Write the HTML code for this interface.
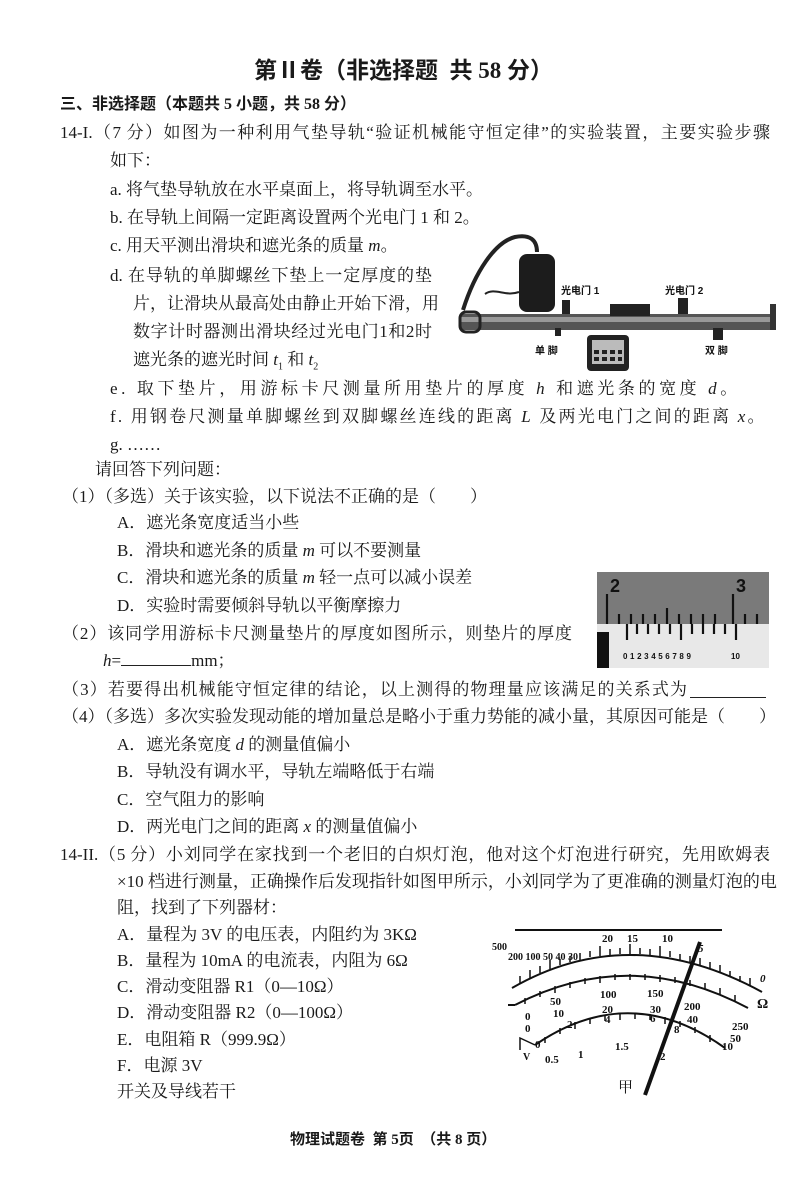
<!DOCTYPE html>
<html><head><meta charset="utf-8">
<style>
body{margin:0;background:#fff;}
#p{position:relative;width:800px;height:1190px;overflow:hidden;background:#fff;font-family:"Liberation Serif","Noto Serif CJK SC",serif;color:#1a1a1a;font-size:17px;}
.l{position:absolute;line-height:24px;white-space:nowrap;}
.j{text-align:justify;text-align-last:justify;}
i{font-style:italic;}
</style></head><body><div id="p">
<div class="l" style="left:254px;top:56px;font-size:23px;line-height:30px;font-weight:bold;font-family:'Liberation Serif','Noto Sans CJK SC',sans-serif;">第Ⅱ卷（非选择题&nbsp;&nbsp;共 58 分）</div>
<div class="l" style="left:60px;top:93px;font-weight:bold;font-family:'Liberation Serif','Noto Sans CJK SC',sans-serif;font-size:16px;">三、非选择题（本题共 5 小题，共 58 分）</div>
<div class="l j" style="left:60px;top:121px;width:710px;">14-I.（7 分）如图为一种利用气垫导轨“验证机械能守恒定律”的实验装置，主要实验步骤</div>
<div class="l" style="left:110px;top:149px;">如下：</div>
<div class="l" style="left:110px;top:178px;">a. 将气垫导轨放在水平桌面上，将导轨调至水平。</div>
<div class="l" style="left:110px;top:206px;">b. 在导轨上间隔一定距离设置两个光电门 1 和 2。</div>
<div class="l" style="left:110px;top:234px;">c. 用天平测出滑块和遮光条的质量 <i>m</i>。</div>
<div class="l j" style="left:110px;top:264px;width:322px;">d. 在导轨的单脚螺丝下垫上一定厚度的垫</div>
<div class="l j" style="left:133px;top:292px;width:299px;">片，让滑块从最高处由静止开始下滑，用</div>
<div class="l j" style="left:133px;top:320px;width:299px;">数字计时器测出滑块经过光电门1和2时</div>
<div class="l" style="left:133px;top:348px;">遮光条的遮光时间 <i>t</i><sub style="font-size:10px">1</sub> 和 <i>t</i><sub style="font-size:10px">2</sub></div>
<div class="l" style="left:110px;top:377px;letter-spacing:3.6px;">e. 取下垫片，用游标卡尺测量所用垫片的厚度 <i>h</i> 和遮光条的宽度 <i>d</i>。</div>
<div class="l" style="left:110px;top:405px;letter-spacing:2.2px;">f. 用钢卷尺测量单脚螺丝到双脚螺丝连线的距离 <i>L</i> 及两光电门之间的距离 <i>x</i>。</div>
<div class="l" style="left:110px;top:433px;">g. ……</div>
<div class="l" style="left:95px;top:458px;">请回答下列问题：</div>
<div class="l" style="left:62px;top:485px;">（1）（多选）关于该实验，以下说法不正确的是（　　）</div>
<div class="l" style="left:117px;top:511px;">A．遮光条宽度适当小些</div>
<div class="l" style="left:117px;top:539px;">B．滑块和遮光条的质量 <i>m</i> 可以不要测量</div>
<div class="l" style="left:117px;top:566px;">C．滑块和遮光条的质量 <i>m</i> 轻一点可以减小误差</div>
<div class="l" style="left:117px;top:594px;">D．实验时需要倾斜导轨以平衡摩擦力</div>
<div class="l j" style="left:62px;top:622px;width:510px;">（2）该同学用游标卡尺测量垫片的厚度如图所示，则垫片的厚度</div>
<div class="l" style="left:103px;top:649px;"><i>h</i>=<span style="display:inline-block;width:70px;border-bottom:1px solid #222;"></span>mm；</div>
<div class="l j" style="left:62px;top:678px;width:625px;">（3）若要得出机械能守恒定律的结论，以上测得的物理量应该满足的关系式为</div>
<div style="position:absolute;left:690px;top:697px;width:76px;border-bottom:1px solid #222;"></div>
<div class="l j" style="left:62px;top:705px;width:710px;">（4）（多选）多次实验发现动能的增加量总是略小于重力势能的减小量，其原因可能是（　　）</div>
<div class="l" style="left:117px;top:733px;">A．遮光条宽度 <i>d</i> 的测量值偏小</div>
<div class="l" style="left:117px;top:760px;">B．导轨没有调水平，导轨左端略低于右端</div>
<div class="l" style="left:117px;top:788px;">C．空气阻力的影响</div>
<div class="l" style="left:117px;top:815px;">D．两光电门之间的距离 <i>x</i> 的测量值偏小</div>
<div class="l j" style="left:60px;top:843px;width:710px;">14-II.（5 分）小刘同学在家找到一个老旧的白炽灯泡，他对这个灯泡进行研究，先用欧姆表</div>
<div class="l j" style="left:117px;top:870px;width:653px;">×10 档进行测量，正确操作后发现指针如图甲所示，小刘同学为了更准确的测量灯泡的电</div>
<div class="l" style="left:117px;top:896px;">阻，找到了下列器材：</div>
<div class="l" style="left:117px;top:923px;">A．量程为 3V 的电压表，内阻约为 3KΩ</div>
<div class="l" style="left:117px;top:949px;">B．量程为 10mA 的电流表，内阻为 6Ω</div>
<div class="l" style="left:117px;top:975px;">C．滑动变阻器 R1（0—10Ω）</div>
<div class="l" style="left:117px;top:1001px;">D．滑动变阻器 R2（0—100Ω）</div>
<div class="l" style="left:117px;top:1028px;">E．电阻箱 R（999.9Ω）</div>
<div class="l" style="left:117px;top:1054px;">F．电源 3V</div>
<div class="l" style="left:117px;top:1080px;">开关及导线若干</div>
<div class="l" style="left:290px;top:1128px;font-weight:bold;font-size:15px;font-family:'Liberation Serif','Noto Sans CJK SC',sans-serif;">物理试题卷&nbsp;&nbsp;第 5页&nbsp;&nbsp;（共 8 页）</div>

<svg style="position:absolute;left:455px;top:232px" width="325" height="150" viewBox="0 0 325 150">
<path d="M8 78 C 20 40, 40 10, 60 5 C 75 2, 82 8, 82 20" fill="none" stroke="#222" stroke-width="4"/>
<rect x="64" y="22" width="36" height="58" rx="8" fill="#1c1c1c"/>
<path d="M30 62 C 40 55, 50 65, 64 60" fill="none" stroke="#222" stroke-width="2"/>
<rect x="107" y="68" width="8" height="18" fill="#222"/>
<rect x="223" y="66" width="10" height="20" fill="#222"/>
<rect x="5" y="82" width="316" height="16" fill="#555"/>
<rect x="5" y="85" width="316" height="5" fill="#999"/>
<rect x="5" y="80" width="20" height="20" rx="6" fill="none" stroke="#222" stroke-width="3"/>
<rect x="155" y="72" width="40" height="12" fill="#222"/>
<rect x="315" y="72" width="6" height="26" fill="#333"/>
<rect x="100" y="96" width="6" height="8" fill="#222"/>
<rect x="258" y="96" width="10" height="12" fill="#222"/>
<rect x="132" y="103" width="42" height="36" rx="4" fill="#222"/>
<rect x="137" y="108" width="32" height="24" fill="#bbb"/>
<g fill="#222"><rect x="139" y="118" width="5" height="4"/><rect x="147" y="118" width="5" height="4"/><rect x="155" y="118" width="5" height="4"/><rect x="163" y="118" width="4" height="4"/><rect x="139" y="125" width="5" height="4"/><rect x="147" y="125" width="5" height="4"/><rect x="155" y="125" width="5" height="4"/><rect x="163" y="125" width="4" height="4"/></g>
<g font-family="'Liberation Sans','Noto Sans CJK SC',sans-serif" font-size="10" font-weight="bold" fill="#111">
<text x="106" y="62">光电门 1</text><text x="210" y="62">光电门 2</text>
<text x="80" y="122">单 脚</text><text x="250" y="122">双 脚</text></g>
</svg>

<svg style="position:absolute;left:597px;top:572px" width="172" height="96" viewBox="0 0 172 96">
<rect width="172" height="96" fill="#e8e8e8"/>
<rect width="172" height="52" fill="#7a7a7a"/>
<rect x="0" y="60" width="12" height="36" fill="#111"/>
<g stroke="#111" stroke-width="2.2">
<line x1="10" y1="22" x2="10" y2="52"/><line x1="136" y1="22" x2="136" y2="52"/>
<line x1="22" y1="42" x2="22" y2="52"/><line x1="34" y1="42" x2="34" y2="52"/><line x1="46" y1="42" x2="46" y2="52"/><line x1="58" y1="42" x2="58" y2="52"/><line x1="70" y1="36" x2="70" y2="52"/><line x1="82" y1="42" x2="82" y2="52"/><line x1="94" y1="42" x2="94" y2="52"/><line x1="106" y1="42" x2="106" y2="52"/><line x1="118" y1="42" x2="118" y2="52"/><line x1="148" y1="42" x2="148" y2="52"/><line x1="160" y1="42" x2="160" y2="52"/>
<line x1="30" y1="52" x2="30" y2="68"/><line x1="40" y1="52" x2="40" y2="62"/><line x1="51" y1="52" x2="51" y2="62"/><line x1="62" y1="52" x2="62" y2="62"/><line x1="73" y1="52" x2="73" y2="62"/><line x1="84" y1="52" x2="84" y2="68"/><line x1="95" y1="52" x2="95" y2="62"/><line x1="106" y1="52" x2="106" y2="62"/><line x1="117" y1="52" x2="117" y2="62"/><line x1="128" y1="52" x2="128" y2="62"/><line x1="139" y1="52" x2="139" y2="68"/>
</g>
<g font-family="'Liberation Sans',sans-serif" font-weight="bold" fill="#111">
<text x="13" y="20" font-size="18">2</text><text x="139" y="20" font-size="18">3</text>
<text x="26" y="87" font-size="8" letter-spacing="2.6">0123456789</text><text x="134" y="87" font-size="8">10</text></g>
</svg>

<svg style="position:absolute;left:490px;top:920px" width="290" height="180" viewBox="0 0 290 180">
<g fill="none" stroke="#111">
<line x1="25" y1="10" x2="232" y2="10" stroke-width="2"/>
<path d="M22 68 Q 140 0 272 72" stroke-width="2"/>
<path d="M25 85 Q 140 25 258 88" stroke-width="2"/>
<path d="M45 125 Q 140 60 235 128" stroke-width="2"/>
<path d="M18 85 L 25 85" stroke-width="2"/>
<path d="M30 130 L 30 118 L 45 125" stroke-width="1.5"/>
</g>
<g stroke="#111" stroke-width="1.5">
<path d="M30 64v-8M40 58v-8M50 53v-7M60 49v-9M70 45v-6M80 42v-6M90 40v-7M100 37v-6M110 36v-10M120 35v-6M130 34v-6M140 34v-10M150 34v-6M160 35v-6M170 36v-10M180 37v-6M190 40v-6M200 42v-6M210 45v-7M220 48v-6M230 52v-7M240 57v-6M250 62v-6M260 66v-8"/>
<path d="M35 78v6M50 71v6M65 66v7M80 62v6M95 58v6M110 56v7M125 54v6M140 54v6M155 54v6M170 55v7M185 57v6M200 60v6M215 63v7M230 68v6M245 75v6"/>
<path d="M55 117v6M70 108v6M85 102v7M100 98v6M115 95v6M130 93v7M145 93v6M160 94v6M175 97v7M190 101v6M205 107v6M220 115v7"/>
</g>
<line x1="155" y1="175" x2="210" y2="22" stroke="#111" stroke-width="4"/>
<g font-family="'Liberation Serif',serif" font-weight="bold" font-size="11" fill="#111">
<text x="2" y="30" font-size="10">500</text><text x="18" y="40" font-size="10">200 100 50 40 30</text>
<text x="112" y="22">20</text><text x="137" y="22">15</text><text x="172" y="22">10</text><text x="208" y="32" font-style="italic">5</text><text x="270" y="62" font-style="italic">0</text><text x="267" y="88" font-size="14">Ω</text>
<text x="60" y="85">50</text><text x="110" y="78">100</text><text x="157" y="77">150</text><text x="194" y="90">200</text><text x="242" y="110">250</text>
<text x="63" y="97">10</text><text x="112" y="93">20</text><text x="160" y="93">30</text><text x="197" y="103">40</text><text x="240" y="122">50</text>
<text x="35" y="100">0</text><text x="35" y="112">0</text><text x="77" y="108">2</text><text x="115" y="103">4</text><text x="160" y="102">6</text><text x="184" y="113">8</text><text x="232" y="130">10</text>
<text x="45" y="128">0</text><text x="88" y="138">1</text><text x="125" y="130">1.5</text><text x="170" y="140">2</text>
<text x="55" y="143">0.5</text><text x="33" y="140" font-size="10">V</text>
</g>
<text x="128" y="172" font-family="'Liberation Serif','Noto Serif CJK SC',serif" font-size="15" fill="#111">甲</text>
</svg>
</div></body></html>
